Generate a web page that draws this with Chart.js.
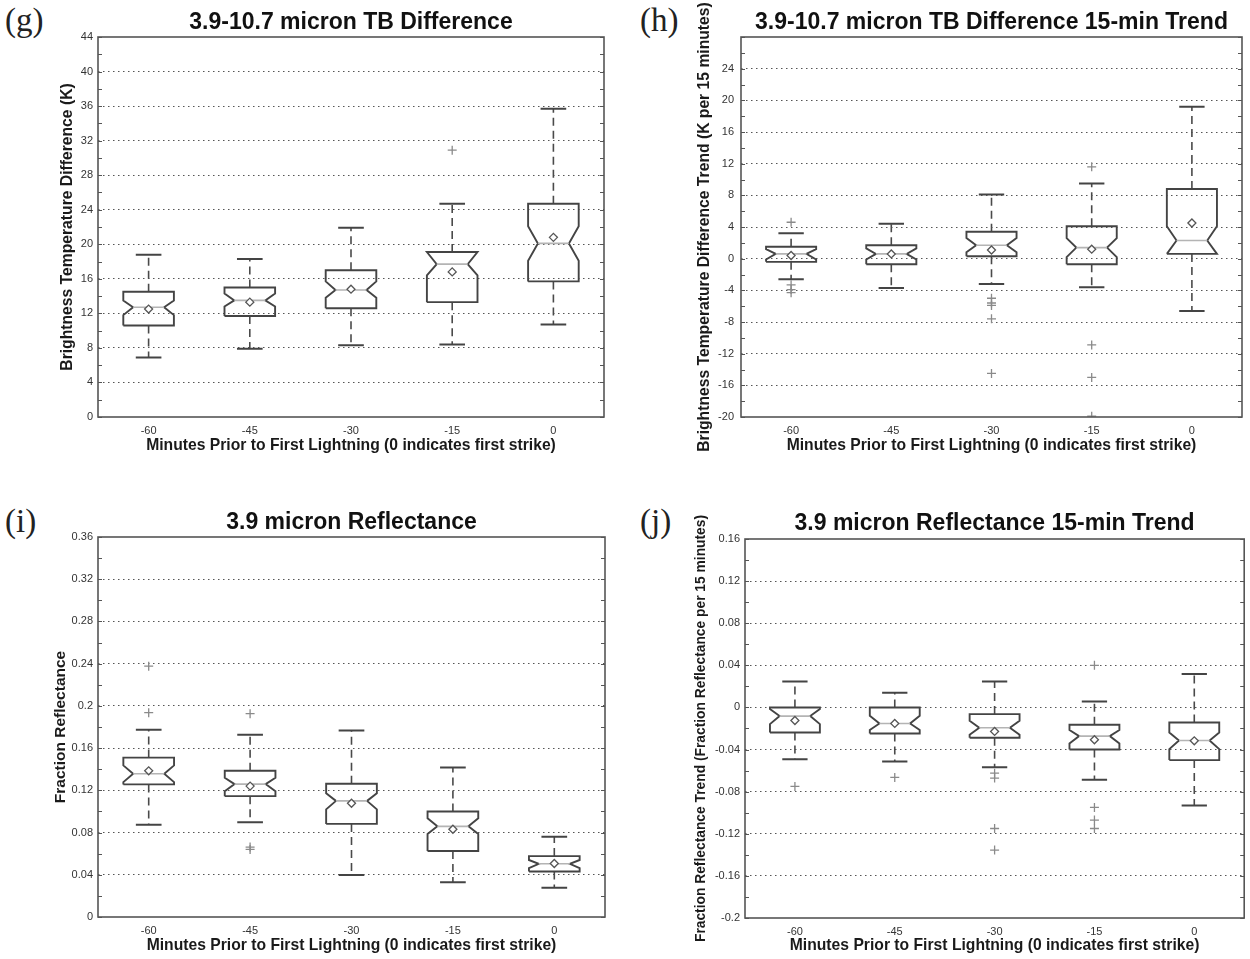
<!DOCTYPE html>
<html>
<head>
<meta charset="utf-8">
<script src="https://cdn.jsdelivr.net/npm/chart.js@4.4.1/dist/chart.umd.min.js"></script>
<style>
  body { margin: 0; background: #fff; width: 1250px; height: 959px; position: relative; overflow: hidden; }
  canvas { position: absolute; }
  .tag { position: absolute; font-family: 'Liberation Serif', 'DejaVu Serif', serif; font-size: 33px; line-height: 33px; color: #222; }
</style>
</head>
<body>
<div class="tag" style="left:5px;top:4px">(g)</div>
<div class="tag" style="left:640px;top:4px">(h)</div>
<div class="tag" style="left:5px;top:505px">(i)</div>
<div class="tag" style="left:640px;top:505px">(j)</div>
<canvas id="chartG" width="625" height="480" style="left:0;top:0"></canvas>
<canvas id="chartH" width="625" height="480" style="left:625px;top:0"></canvas>
<canvas id="chartI" width="625" height="459" style="left:0;top:500px"></canvas>
<canvas id="chartJ" width="625" height="459" style="left:625px;top:500px"></canvas>
<script>
const minutes = [-60, -45, -30, -15, 0];

// (g) 3.9-10.7 micron TB difference
const gUpper = [18.8, 18.3, 21.9, 24.7, 35.7];
const gQ3 = [14.5, 15.0, 17.0, 19.1, 24.7];
const gNotchHi = [13.5, 14.3, 15.7, 19.1, 22.1];
const gMedian = [12.7, 13.5, 14.7, 17.7, 20.1];
const gNotchLo = [11.8, 12.8, 13.8, 16.4, 18.1];
const gQ1 = [10.6, 11.7, 12.6, 13.3, 15.7];
const gLower = [6.9, 7.9, 8.3, 8.4, 10.7];
const gMean = [12.5, 13.3, 14.8, 16.8, 20.8];
const gOutliers = [[], [], [], [30.9], []];

// (h) 15-min trend of the TB difference
const hUpper = [3.2, 4.4, 8.1, 9.5, 19.2];
const hQ3 = [1.5, 1.7, 3.4, 4.1, 8.8];
const hNotchHi = [1.2, 1.3, 2.6, 2.6, 4.1];
const hMedian = [0.6, 0.6, 1.7, 1.4, 2.3];
const hNotchLo = [-0.1, -0.1, 0.8, 0.2, 0.6];
const hQ1 = [-0.4, -0.7, 0.3, -0.7, 0.6];
const hLower = [-2.6, -3.7, -3.2, -3.6, -6.6];
const hMean = [0.4, 0.6, 1.1, 1.2, 4.5];
const hOutliers = [[4.6, -3.3, -3.9, -4.3], [], [-5.0, -5.6, -5.9, -7.6, -14.5], [11.6, -10.9, -15.0, -19.9], []];

// (i) 3.9 micron reflectance
const iUpper = [0.1775, 0.1727, 0.1766, 0.1417, 0.0761];
const iQ3 = [0.151, 0.1385, 0.1262, 0.0999, 0.0577];
const iNotchHi = [0.1436, 0.1319, 0.1173, 0.0935, 0.054];
const iMedian = [0.1357, 0.1259, 0.110, 0.0859, 0.0504];
const iNotchLo = [0.1278, 0.1192, 0.102, 0.0787, 0.0463];
const iQ1 = [0.1256, 0.1145, 0.0882, 0.0625, 0.0431];
const iLower = [0.0873, 0.0898, 0.0397, 0.033, 0.0276];
const iMean = [0.1385, 0.124, 0.1078, 0.0831, 0.0507];
const iOutliers = [[0.2376, 0.1936], [0.1926, 0.0662, 0.064], [], [], []];

// (j) 15-min trend of the reflectance
const jUpper = [0.0247, 0.0139, 0.0247, 0.0057, 0.0317];
const jQ3 = [0.0, 0.0, -0.0063, -0.0165, -0.0143];
const jNotchHi = [-0.0016, -0.0079, -0.0127, -0.0215, -0.0238];
const jMedian = [-0.0082, -0.0152, -0.0193, -0.0272, -0.0314];
const jNotchLo = [-0.0158, -0.0215, -0.026, -0.0342, -0.0396];
const jQ1 = [-0.0238, -0.0247, -0.0288, -0.04, -0.05];
const jLower = [-0.0491, -0.0513, -0.0567, -0.0687, -0.0931];
const jMean = [-0.0124, -0.0152, -0.0228, -0.0307, -0.0317];
const jOutliers = [[-0.075], [-0.0665], [-0.0624, -0.0671, -0.115, -0.1355], [0.04, -0.095, -0.107, -0.115], []];

// half widths, in minutes on the x axis
const BOX = 3.75, NOTCH = 2.3, CAP = 1.9;
const SANS = "'Liberation Sans', Arial, sans-serif";
const NARROW = "'Liberation Sans Narrow', 'Liberation Sans', Arial, sans-serif";

function boxDatasets(upper, q3, nhi, med, nlo, q1, lower, mean, outliers) {
  const outline = [], medLine = [], whisk = [], caps = [], means = [], outs = [];
  minutes.forEach((x, i) => {
    const nh = Math.min(nhi[i], q3[i]);
    const nl = Math.max(nlo[i], q1[i]);
    outline.push(
      {x: x - BOX, y: q1[i]}, {x: x + BOX, y: q1[i]}, {x: x + BOX, y: nl},
      {x: x + NOTCH, y: med[i]}, {x: x + BOX, y: nh}, {x: x + BOX, y: q3[i]},
      {x: x - BOX, y: q3[i]}, {x: x - BOX, y: nh}, {x: x - NOTCH, y: med[i]},
      {x: x - BOX, y: nl}, {x: x - BOX, y: q1[i]}, {x: x, y: null});
    medLine.push({x: x - NOTCH, y: med[i]}, {x: x + NOTCH, y: med[i]}, {x: x, y: null});
    whisk.push({x: x, y: q3[i]}, {x: x, y: upper[i]}, {x: x, y: null},
               {x: x, y: q1[i]}, {x: x, y: lower[i]}, {x: x, y: null});
    caps.push({x: x - CAP, y: upper[i]}, {x: x + CAP, y: upper[i]}, {x: x, y: null},
              {x: x - CAP, y: lower[i]}, {x: x + CAP, y: lower[i]}, {x: x, y: null});
    means.push({x: x, y: mean[i]});
    outliers[i].forEach(v => outs.push({x: x, y: v}));
  });
  const line = {pointRadius: 0, tension: 0, fill: false, spanGaps: false};
  return [
    {data: means, showLine: false, pointStyle: 'rectRot', pointRadius: 4, borderColor: '#555', backgroundColor: '#fff', pointBorderWidth: 1.3},
    {data: outs, showLine: false, pointStyle: 'cross', pointRadius: 4.5, borderColor: '#8a8a8a', pointBorderWidth: 1.3},
    Object.assign({data: medLine, borderColor: '#b4b4b4', borderWidth: 1.6}, line),
    Object.assign({data: outline, borderColor: '#444', borderWidth: 1.9}, line),
    Object.assign({data: caps, borderColor: '#444', borderWidth: 2}, line),
    Object.assign({data: whisk, borderColor: '#4a4a4a', borderWidth: 1.6, borderDash: [8, 5]}, line)
  ];
}

const framePlugin = {
  id: 'frame',
  afterDraw(chart) {
    const {ctx, chartArea: a} = chart;
    const y = chart.scales.y;
    ctx.save();
    ctx.strokeStyle = '#555';
    ctx.lineWidth = 1.2;
    y.ticks.forEach(t => {
      const py = Math.round(y.getPixelForValue(t.value)) + 0.5;
      ctx.beginPath();
      ctx.moveTo(a.left, py); ctx.lineTo(a.left + 4, py);
      ctx.moveTo(a.right, py); ctx.lineTo(a.right - 4, py);
      ctx.stroke();
    });
    ctx.lineWidth = 1.6;
    ctx.strokeRect(a.left, a.top, a.right - a.left, a.bottom - a.top);
    ctx.restore();
  }
};

function fmt(v) {
  return String(Number(v.toFixed(4)));
}

function makeChart(id, p) {
  const isMajor = v => Math.abs(v / p.major - Math.round(v / p.major)) < 1e-6;
  const nearBound = v => Math.abs(v - p.min) < 1e-9 || Math.abs(v - p.max) < 1e-9;
  new Chart(document.getElementById(id), {
    type: 'line',
    data: {datasets: p.datasets},
    options: {
      responsive: false,
      animation: false,
      devicePixelRatio: 1,
      events: [],
      layout: {padding: {left: 0, right: p.padRight, top: 0, bottom: 0}},
      plugins: {
        legend: {display: false},
        tooltip: {enabled: false},
        title: {
          display: true, text: p.title, fullSize: false, color: '#111',
          font: {family: SANS, size: 23, weight: 'bold'},
          padding: {top: p.titleTop, bottom: p.titleBottom}
        }
      },
      scales: {
        x: {
          type: 'linear', min: -67.5, max: 7.5,
          afterBuildTicks: s => { s.ticks = minutes.map(v => ({value: v})); },
          ticks: {font: {family: NARROW, size: 11}, color: '#333', padding: 7, callback: v => String(v)},
          grid: {display: false, drawTicks: false},
          border: {display: false},
          title: {
            display: true, text: 'Minutes Prior to First Lightning (0 indicates first strike)',
            color: '#1a1a1a', font: {family: SANS, size: 15.7, weight: 'bold'},
            padding: {top: 0, bottom: p.xTitleBottom}
          },
          afterFit: s => { s.height = p.xHeight; }
        },
        y: {
          min: p.min, max: p.max,
          afterBuildTicks: s => {
            const n = Math.round((p.max - p.min) / p.minor);
            const t = [];
            for (let k = 0; k <= n; k++) t.push({value: Number((p.min + k * p.minor).toFixed(6))});
            s.ticks = t;
          },
          ticks: {
            font: {family: NARROW, size: 11}, color: '#333', padding: p.yTickPad, autoSkip: false,
            callback: v => (isMajor(v) && !(p.hideTop && Math.abs(v - p.max) < 1e-9)) ? fmt(v) : ''
          },
          grid: {
            drawTicks: false, lineWidth: 1,
            color: c => (c.tick && isMajor(c.tick.value) && !nearBound(c.tick.value)) ? '#555' : 'rgba(0,0,0,0)'
          },
          border: {display: false, dash: [1.5, 3.5]},
          title: {
            display: true, text: p.yTitle, color: '#1a1a1a',
            font: {family: SANS, size: p.yTitleSize, weight: 'bold'},
            padding: {top: p.yTitlePad, bottom: 0}
          },
          afterFit: s => { s.width = p.yWidth; }
        }
      }
    },
    plugins: [framePlugin]
  });
}

makeChart('chartG', {
  title: '3.9-10.7 micron TB Difference',
  yTitle: 'Brightness Temperature Difference (K)',
  datasets: boxDatasets(gUpper, gQ3, gNotchHi, gMedian, gNotchLo, gQ1, gLower, gMean, gOutliers),
  min: 0, max: 44, major: 4, minor: 2,
  padRight: 21, titleTop: 9, titleBottom: 0.4,
  xHeight: 63, xTitleBottom: 24.6,
  yWidth: 98, yTickPad: 5, yTitleSize: 15.7, yTitlePad: 58.6
});

makeChart('chartH', {
  title: '3.9-10.7 micron TB Difference 15-min Trend',
  yTitle: 'Brightness Temperature Difference Trend (K per 15 minutes)',
  datasets: boxDatasets(hUpper, hQ3, hNotchHi, hMedian, hNotchLo, hQ1, hLower, hMean, hOutliers),
  min: -20, max: 28, major: 4, minor: 2, hideTop: true,
  padRight: 8, titleTop: 9, titleBottom: 0.4,
  xHeight: 63, xTitleBottom: 24.6,
  yWidth: 116, yTickPad: 7, yTitleSize: 15.7, yTitlePad: 70.6
});

makeChart('chartI', {
  title: '3.9 micron Reflectance',
  yTitle: 'Fraction Reflectance',
  datasets: boxDatasets(iUpper, iQ3, iNotchHi, iMedian, iNotchLo, iQ1, iLower, iMean, iOutliers),
  min: 0, max: 0.36, major: 0.04, minor: 0.02,
  padRight: 20, titleTop: 9, titleBottom: 0.4,
  xHeight: 42, xTitleBottom: 3.6,
  yWidth: 98, yTickPad: 5, yTitleSize: 15.5, yTitlePad: 51
});

makeChart('chartJ', {
  title: '3.9 micron Reflectance 15-min Trend',
  yTitle: 'Fraction Reflectance Trend (Fraction Reflectance per 15 minutes)',
  datasets: boxDatasets(jUpper, jQ3, jNotchHi, jMedian, jNotchLo, jQ1, jLower, jMean, jOutliers),
  min: -0.2, max: 0.16, major: 0.04, minor: 0.02,
  padRight: 3, titleTop: 9.5, titleBottom: 1.9,
  xHeight: 41, xTitleBottom: 3.6,
  yWidth: 120, yTickPad: 5, yTitleSize: 13.8, yTitlePad: 68
});
</script>
</body>
</html>
